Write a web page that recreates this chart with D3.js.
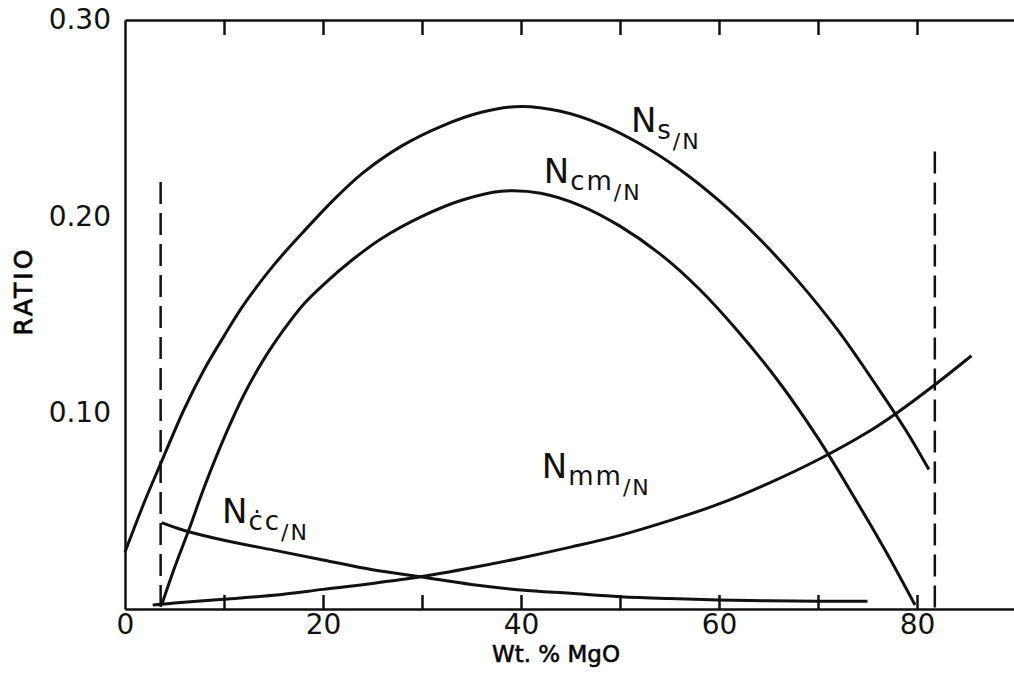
<!DOCTYPE html>
<html>
<head>
<meta charset="utf-8">
<script src="https://cdn.jsdelivr.net/npm/d3@7"></script>
<style>
  body { margin: 0; background: #fff; }
  svg { display: block; font-family: "DejaVu Sans", sans-serif; }
  .axis path, .axis line { stroke: #111; stroke-width: 2.5; }
  .axis text { fill: #111; font-size: 28px; font-family: "DejaVu Sans", sans-serif; }
</style>
</head>
<body>
<div id="chart"></div>
<script>
(function() {
  'use strict';
  var WIDTH = 1014;
  var HEIGHT = 682;

  // Wt. % MgO -> ratio
  var nsX   = [0, 2, 3.6, 6, 8, 10, 12, 15, 18, 21, 24, 28, 32, 36, 40, 44, 48, 52, 56, 60, 64, 68, 72, 76, 79, 81.2];
  var nsY   = [0.029, 0.055, 0.074, 0.102, 0.122, 0.139, 0.155, 0.175, 0.192, 0.208, 0.222, 0.236, 0.246, 0.253, 0.256, 0.2535, 0.247, 0.237, 0.224, 0.208, 0.189, 0.167, 0.142, 0.113, 0.090, 0.071];
  var ncmX  = [3.7, 5, 6.5, 8, 10, 12, 14, 16, 18, 20, 23, 26, 30, 34, 38, 42, 46, 50, 54, 58, 62, 66, 70, 74, 77, 79.8];
  var ncmY  = [0.002, 0.021, 0.041, 0.062, 0.087, 0.109, 0.127, 0.142, 0.155, 0.165, 0.178, 0.189, 0.200, 0.2082, 0.2128, 0.2118, 0.2055, 0.195, 0.181, 0.163, 0.141, 0.116, 0.087, 0.054, 0.028, 0.002];
  var nmmX  = [2.8, 5, 10, 15, 20, 25, 30, 35, 40, 45, 50, 55, 60, 65, 70, 75, 78, 82, 85.5];
  var nmmY  = [0.002, 0.003, 0.005, 0.007, 0.010, 0.013, 0.0165, 0.021, 0.026, 0.0315, 0.0375, 0.045, 0.0535, 0.064, 0.076, 0.090, 0.100, 0.115, 0.129];
  var nccX  = [3.7, 6, 10, 15, 20, 25, 30, 35, 40, 45, 50, 55, 60, 65, 70, 75];
  var nccY  = [0.044, 0.040, 0.035, 0.030, 0.025, 0.020, 0.0163, 0.0125, 0.0097, 0.008, 0.0063, 0.0053, 0.0046, 0.0042, 0.004, 0.004];

  // dashed limits: [x, top ratio]
  var limits = [[3.6, 0.2175], [81.8, 0.233]];

  var xTicks = [10, 20, 30, 40, 50, 60, 70, 80];
  var xLabels = [0, 20, 40, 60, 80];
  var yLabels = [0.10, 0.20, 0.30];

  function zip(xs, ys) {
    return xs.map(function(d, i) { return [d, ys[i]]; });
  }

  var svg = d3.select('#chart').append('svg')
    .attr('width', WIDTH)
    .attr('height', HEIGHT);

  var x = d3.scaleLinear().domain([0, 90]).range([125, 1016]);
  var y = d3.scaleLinear().domain([0, 0.30]).range([609, 20]);

  // frame + inward ticks
  svg.append('g').attr('class', 'axis')
    .attr('transform', 'translate(0,' + y(0) + ')')
    .call(d3.axisBottom(x).tickValues(xTicks).tickSize(-14).tickSizeOuter(0).tickFormat(''));
  svg.append('g').attr('class', 'axis')
    .attr('transform', 'translate(0,' + y(0.30) + ')')
    .call(d3.axisTop(x).tickValues(xTicks).tickSize(-15).tickSizeOuter(0).tickFormat(''));
  svg.append('g').attr('class', 'axis')
    .attr('transform', 'translate(' + x(0) + ',0)')
    .call(d3.axisLeft(y).tickValues(yLabels).tickSize(0).tickSizeOuter(0).tickPadding(14).tickFormat(d3.format('.2f')));

  // x labels (no tick marks of their own)
  var xl = svg.append('g').attr('class', 'axis')
    .attr('transform', 'translate(0,' + y(0) + ')')
    .call(d3.axisBottom(x).tickValues(xLabels).tickSize(0).tickPadding(5));
  xl.select('.domain').remove();

  svg.append('text')
    .attr('x', 556).attr('y', 662)
    .attr('text-anchor', 'middle')
    .style('font-size', '23px')
    .style('stroke', '#111').style('stroke-width', 0.6)
    .text('Wt. % MgO');

  svg.append('text')
    .attr('transform', 'translate(32,291) rotate(-90)')
    .attr('text-anchor', 'middle')
    .style('font-size', '25px')
    .style('letter-spacing', '3px')
    .style('stroke', '#111').style('stroke-width', 0.8)
    .text('RATIO');

  var line = d3.line()
    .x(function(d) { return x(d[0]); })
    .y(function(d) { return y(d[1]); })
    .curve(d3.curveCatmullRom.alpha(0.5));

  var series = [zip(nsX, nsY), zip(ncmX, ncmY), zip(nmmX, nmmY), zip(nccX, nccY)];
  svg.append('g').selectAll('path')
    .data(series)
    .enter().append('path')
    .attr('d', line)
    .attr('fill', 'none')
    .attr('stroke', '#111')
    .attr('stroke-width', 3);

  svg.append('g').selectAll('line')
    .data(limits)
    .enter().append('line')
    .attr('x1', function(d) { return x(d[0]); })
    .attr('x2', function(d) { return x(d[0]); })
    .attr('y1', function(d) { return y(d[1]); })
    .attr('y2', y(0))
    .attr('stroke', '#111')
    .attr('stroke-width', 2.5)
    .attr('stroke-dasharray', '22,9');

  // curve labels: [subscript, x, y]
  var labels = [
    ['s', 51.1, 0.243],
    ['cm', 42.3, 0.217],
    ['mm', 42.1, 0.0667],
    ['\u010bc', 9.8, 0.0438]
  ];
  labels.forEach(function(l) {
    var t = svg.append('text')
      .attr('x', x(l[1])).attr('y', y(l[2]))
      .style('fill', '#111');
    t.append('tspan').style('font-size', '34px').text('N');
    t.append('tspan').style('font-size', '26px').style('letter-spacing', '2px')
      .attr('dx', 1).attr('dy', 7).text(l[0]);
    t.append('tspan').style('font-size', '22px').style('letter-spacing', '2px')
      .attr('dy', 10).text('/N');
  });
})();
</script>
</body>
</html>
